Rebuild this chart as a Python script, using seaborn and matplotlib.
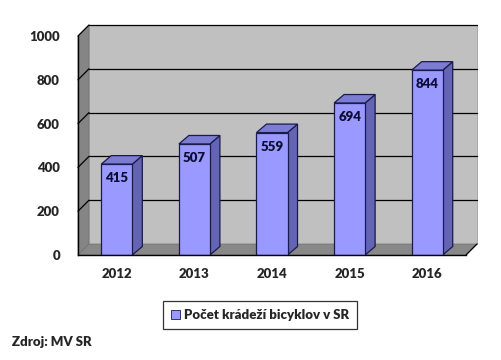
import matplotlib
matplotlib.use("Agg")
import matplotlib.pyplot as plt
from matplotlib.patches import Polygon, Rectangle
from matplotlib.lines import Line2D
import seaborn as sns
import pandas as pd

years = ["2012", "2013", "2014", "2015", "2016"]
values = [415, 507, 559, 694, 844]
y_ticks = [0, 200, 400, 600, 800, 1000]
series_name = "Počet krádeží bicyklov v SR"
source_text = "Zdroj: MV SR"

sns.set_style("white")
plt.rcParams["font.family"] = ["Lato", "DejaVu Sans"]
FW = "heavy"

fig = plt.figure(figsize=(5.01, 3.6), dpi=100)
ax = fig.add_axes([78 / 501, 1 - 255 / 360, 388 / 501, 219 / 360])

df = pd.DataFrame({"year": years, "value": values})
sns.barplot(data=df, x="year", y="value", color="#9999FF", saturation=1,
            width=0.4, edgecolor="#1a1a4d", linewidth=0.9, ax=ax, zorder=5)

ax.set_xlim(-0.5, 4.5)
ax.set_ylim(0, 1000)
ax.set_xlabel("")
ax.set_ylabel("")

# depth offsets (data units)
px_x = 5 / 388
px_y = 1000 / 219
ddx, ddy = 11 * px_x, 11 * px_y
bdx, bdy = 10 * px_x, 8.5 * px_y
x0, x1 = -0.5, 4.5

# back wall
ax.add_patch(Rectangle((x0 + ddx, ddy), x1 - x0, 1000, facecolor="#C0C0C0",
                       edgecolor="#A0A0A0", lw=0.6, clip_on=False, zorder=0))
# left wall
ax.add_patch(Polygon([(x0, 0), (x0, 1000), (x0 + ddx, 1000 + ddy), (x0 + ddx, ddy)],
                     closed=True, facecolor="#858585", edgecolor="#707070", lw=0.5,
                     clip_on=False, zorder=0.5))
# floor
ax.add_patch(Polygon([(x0, 0), (x1, 0), (x1 + ddx, ddy), (x0 + ddx, ddy)],
                     closed=True, facecolor="#888888", edgecolor="#707070", lw=0.5,
                     clip_on=False, zorder=0.5))
# gridlines
for v in y_ticks[1:]:
    ax.add_line(Line2D([x0 + ddx, x1 + ddx], [v + ddy, v + ddy], color="black",
                       lw=0.9, clip_on=False, zorder=1))
    ax.add_line(Line2D([x0, x0 + ddx], [v, v + ddy], color="black",
                       lw=0.9, clip_on=False, zorder=1))
# right floor diagonal
ax.add_line(Line2D([x1, x1 + ddx], [0, ddy], color="black", lw=0.9,
                   clip_on=False, zorder=2))

# 3D faces for bars
for p in list(ax.patches):
    if not isinstance(p, Rectangle) or p.get_zorder() != 5:
        continue
    bx0 = p.get_x()
    bx1 = bx0 + p.get_width()
    h = p.get_height()
    ax.add_patch(Polygon([(bx1, 0), (bx1, h), (bx1 + bdx, h + bdy), (bx1 + bdx, bdy)],
                         closed=True, facecolor="#6464B4", edgecolor="#1a1a4d",
                         lw=0.9, clip_on=False, zorder=4))
    ax.add_patch(Polygon([(bx0, h), (bx1, h), (bx1 + bdx, h + bdy), (bx0 + bdx, h + bdy)],
                         closed=True, facecolor="#7C7CD2", edgecolor="#1a1a4d",
                         lw=0.9, clip_on=False, zorder=4))
    ax.text(bx0 + p.get_width() / 2, h - 14 * px_y, f"{int(round(h))}",
            ha="center", va="center", fontsize=9.5, fontweight=FW,
            color="#0d0d33", zorder=6)

# spines and ticks
for s in ["top", "right"]:
    ax.spines[s].set_visible(False)
for s in ["left", "bottom"]:
    ax.spines[s].set_visible(True)
    ax.spines[s].set_color("black")
    ax.spines[s].set_linewidth(1.0)
    ax.spines[s].set_zorder(7)

ax.set_yticks(y_ticks)
ax.set_yticklabels([str(v) for v in y_ticks], fontsize=9.5, fontweight=FW)
ax.tick_params(axis="y", direction="out", length=5, width=1, color="black", pad=8)
ax.set_xticks(range(len(years)))
ax.set_xticklabels(years, fontsize=9.5, fontweight=FW)
ax.set_xticks([i - 0.5 for i in range(len(years) + 1)], minor=True)
ax.tick_params(axis="x", which="major", length=0, pad=9)
ax.tick_params(axis="x", which="minor", direction="out", length=5, width=1, color="black")
ax.grid(False)

# legend
handle = Rectangle((0, 0), 1, 1, facecolor="#9999FF", edgecolor="#1a1a4d", lw=0.6)
leg = fig.legend([handle], [series_name], loc="center",
                 bbox_to_anchor=(260 / 501, 1 - 315 / 360),
                 frameon=True, fancybox=False, edgecolor="black",
                 prop={"size": 9.5, "weight": FW},
                 handlelength=0.7, handleheight=0.7, handletextpad=0.3,
                 borderpad=0.6, borderaxespad=0)
leg.get_frame().set_linewidth(0.9)

fig.text(12 / 501, 1 - 342 / 360, source_text, fontsize=9.5, fontweight=FW,
         ha="left", va="center")

fig.savefig("out.png", dpi=100)
